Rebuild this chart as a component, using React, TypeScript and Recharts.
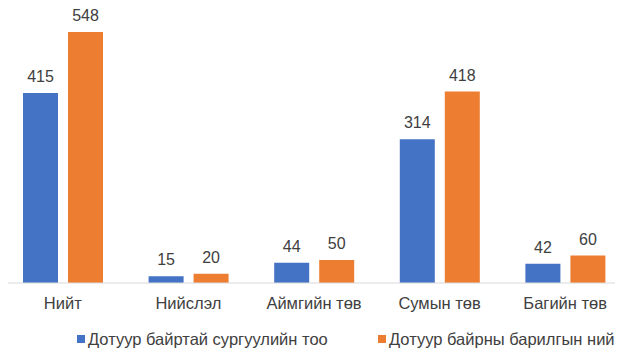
import { Bar, BarChart, LabelList, Legend, XAxis, YAxis } from "recharts";

const categories = ["Нийт", "Нийслэл", "Аймгийн төв", "Сумын төв", "Багийн төв"];
const schools = [415, 15, 44, 314, 42];
const buildings = [548, 20, 50, 418, 60];
// the second name is cut at the right edge of the source image
const seriesNames = ["Дотуур байртай сургуулийн тоо", "Дотуур байрны барилгын ний"];
const seriesColors = ["#4472C4", "#ED7D31"];

const data = categories.map((name, i) => ({
  name,
  schools: schools[i],
  buildings: buildings[i],
}));

const font = "'Liberation Sans', Arial, sans-serif";

function BottomLegend() {
  return (
    <div style={{ position: "relative", height: 36, fontFamily: font, fontSize: 16.5, lineHeight: "20px", color: "#404040", whiteSpace: "nowrap" }}>
      {seriesNames.map((n, i) => (
        <span key={n} style={{ position: "absolute", left: i === 0 ? 77 : 378, top: 8, display: "inline-flex", alignItems: "center" }}>
          <span style={{ width: 8, height: 8, background: seriesColors[i], display: "inline-block", marginRight: 3 }} />
          {n}
        </span>
      ))}
    </div>
  );
}

export default function App() {
  return (
    <div style={{ margin: -8, width: 623, height: 357, overflow: "hidden", background: "#fff" }}>
      <BarChart
        width={623}
        height={357}
        data={data}
        margin={{ top: 32, right: -5, left: 0, bottom: 0 }}
        barSize={35}
        barGap={10}
      >
        <XAxis
          dataKey="name"
          axisLine={{ stroke: "#d9d9d9" }}
          tickLine={false}
          tick={{ fill: "#404040", fontSize: 16.5, fontFamily: font }}
          tickMargin={8}
          height={38}
          interval={0}
        />
        <YAxis hide domain={[0, 548]} />
        <Legend verticalAlign="bottom" height={36} content={() => <BottomLegend />} />
        <Bar dataKey="schools" name={seriesNames[0]} fill={seriesColors[0]} isAnimationActive={false}>
          <LabelList dataKey="schools" position="top" offset={11} fill="#404040" fontSize={16} fontFamily={font} />
        </Bar>
        <Bar dataKey="buildings" name={seriesNames[1]} fill={seriesColors[1]} isAnimationActive={false}>
          <LabelList dataKey="buildings" position="top" offset={11} fill="#404040" fontSize={16} fontFamily={font} />
        </Bar>
      </BarChart>
    </div>
  );
}
